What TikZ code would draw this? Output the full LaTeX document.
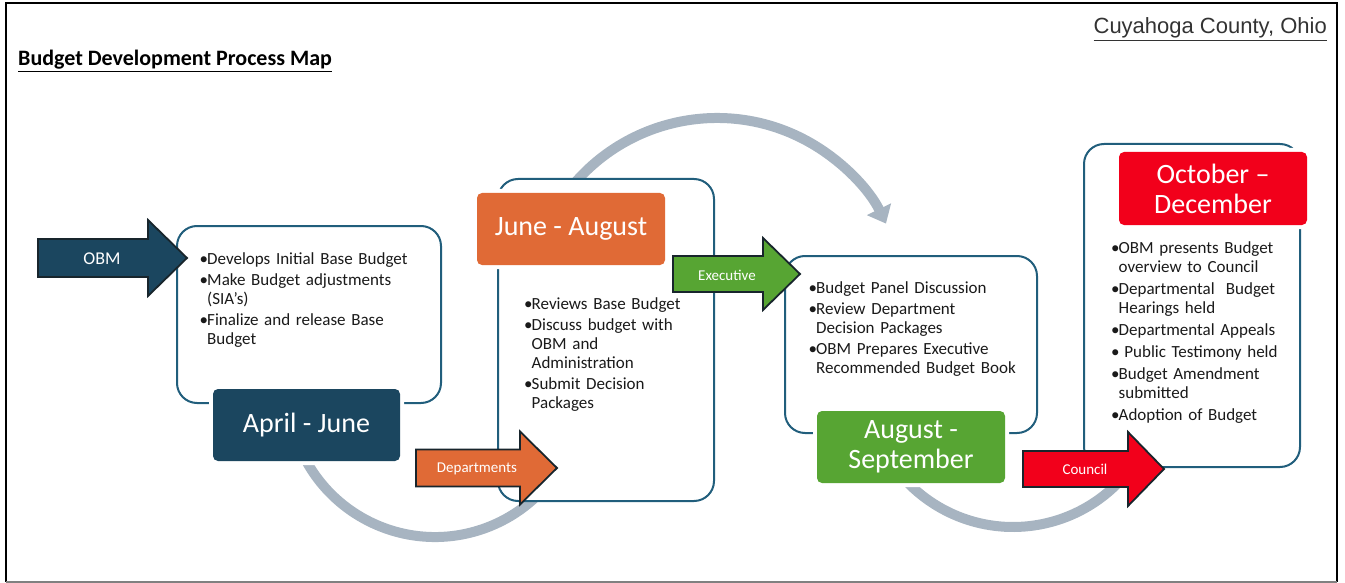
\documentclass[tikz,border=0pt]{standalone}
\usepackage{fontspec}
\setmainfont{Carlito}
\newfontfamily\arialfont{Liberation Sans}
\usetikzlibrary{arrows.meta}

\definecolor{stageline}{HTML}{215E7C}
\definecolor{navyB}{HTML}{1B465F}
\definecolor{orangeB}{HTML}{E06A36}
\definecolor{greenB}{HTML}{57A533}
\definecolor{redB}{HTML}{F2001B}
\definecolor{cyclegray}{HTML}{A7B4C1}
\definecolor{bodytext}{HTML}{1A1A1A}
\definecolor{arrowedge}{HTML}{18252C}
\definecolor{countytext}{HTML}{333333}

% one bulleted item with a hanging indent
\newcommand\itm[1]{\par\hangindent=7.5pt\hangafter=1\noindent\strut\makebox[7.5pt][l]{•}#1}

% block arrow: colour, tail x, neck x, tip x, middle y, half body, half head
\newcommand\blockarrow[7]{%
  \filldraw[fill=#1, draw=arrowedge, line width=1.8pt, line join=miter]
    (#2,#5-#6) -- (#3,#5-#6) -- (#3,#5-#7) -- (#4,#5) -- (#3,#5+#7)
    -- (#3,#5+#6) -- (#2,#5+#6) -- cycle;}

\tikzset{
  stagebox/.style={draw=stageline, line width=2pt, fill=white,
    rounded corners=20pt, inner sep=0pt},
  periodlabel/.style={rounded corners=5pt, text=white, align=center,
    inner sep=0pt, font=\fontsize{28}{30}\selectfont,
    preaction={draw=white, line width=8pt},
    minimum width=188pt, minimum height=72pt},
  arrowlabel/.style={text=white, inner sep=0pt, font=\fontsize{15}{18}\selectfont},
  listtext/.style={anchor=north west, inner sep=0pt, text width=230pt,
    text=bodytext, font=\fontsize{17}{19}\selectfont},
  cyclearc/.style={draw=cyclegray, line width=10pt},
}

\begin{document}
\begin{tikzpicture}[x=1pt, y=-1pt]
\useasboundingbox (0,0) rectangle (1345,583);

% page frame
\draw[line width=2pt] (6,582) -- (6,3) -- (1337,3) -- (1337,582);
\draw[gray, line width=1.5pt] (6,582) -- (1337,582);

% headings
\node[anchor=base west, inner sep=0pt, font=\bfseries\fontsize{22}{26}\selectfont]
  (title) at (18,66) {\underline{Budget Development Process Map}};
\node[anchor=base east, inner sep=0pt, text=countytext, font=\arialfont\fontsize{22}{26}\selectfont]
  (county) at (1327,34) {\underline{Cuyahoga County, Ohio}};

% grey cycle arcs behind the stages
\coordinate (cA) at (435,390);
\coordinate (cB) at (717,306);
\coordinate (cC) at (1013,380);
\draw[cyclearc] (cA) ++(160:147) arc[start angle=160, end angle=35, radius=147];
\draw[cyclearc, -{Triangle[width=26pt, length=16pt]}]
  (cB) ++(-150:188) arc[start angle=-150, end angle=-26, radius=188];
\draw[cyclearc] (cC) ++(140:147) arc[start angle=140, end angle=40, radius=147];

% stage boxes
\node[stagebox, minimum width=264pt, minimum height=177pt] (s1) at (309,314.5) {};
\node[stagebox, minimum width=216pt, minimum height=322pt] (s2) at (606,340) {};
\node[stagebox, minimum width=252pt, minimum height=177pt] (s3) at (911,344.5) {};
\node[stagebox, minimum width=216pt, minimum height=323pt] (s4) at (1192,305.5) {};

% period labels
\node[periodlabel, fill=navyB, minimum width=187pt] (p1) at (306.5,425) {April - June};
\node[periodlabel, fill=orangeB] (p2) at (571,229) {June - August};
\node[periodlabel, fill=greenB] (p3) at (911,447) {August -\\September};
\node[periodlabel, fill=redB, minimum height=73pt] (p4) at (1213,188.5) {October –\\December};

% block arrows between the stages
\blockarrow{navyB}{38}{148}{187}{258}{19}{38}
\blockarrow{orangeB}{416}{520}{557}{468}{18.5}{36.5}
\blockarrow{greenB}{673}{763}{800}{274}{18}{36}
\blockarrow{redB}{1023}{1128}{1164}{469}{18}{37}
\node[arrowlabel, font=\fontsize{18}{20}\selectfont] (aobm) at (102,259) {OBM};
\node[arrowlabel] (adep) at (477,469) {Departments};
\node[arrowlabel] (aexe) at (727,275) {Executive};
\node[arrowlabel] (acou) at (1085,469) {Council};

% stage activities
\node[listtext] (t1) at (199.5,243.2) {\setlength\parskip{2pt}%
  \itm{Develops Initial Base Budget}%
  \itm{Make Budget adjustments\newline (SIA’s)}%
  \itm{Finalize and release Base\newline Budget}\par};
\node[listtext] (t2) at (524,288.2) {\setlength\parskip{2pt}%
  \itm{Reviews Base Budget}%
  \itm{Discuss budget with\newline OBM and\newline Administration}%
  \itm{Submit Decision\newline Packages}\par};
\node[listtext] (t3) at (808.5,272.2) {\setlength\parskip{2pt}%
  \itm{Budget Panel Discussion}%
  \itm{Review Department\newline Decision Packages}%
  \itm{OBM Prepares Executive\newline Recommended Budget Book}\par};
\node[listtext] (t4) at (1111,231.7) {\setlength\parskip{3pt}%
  \itm{OBM presents Budget\newline overview to Council}%
  \itm{Departmental\ \ Budget\newline Hearings held}%
  \itm{Departmental Appeals}%
  \itm{\ Public Testimony held}%
  \itm{Budget Amendment\newline submitted}%
  \itm{Adoption of Budget}\par};
\end{tikzpicture}
\end{document}
